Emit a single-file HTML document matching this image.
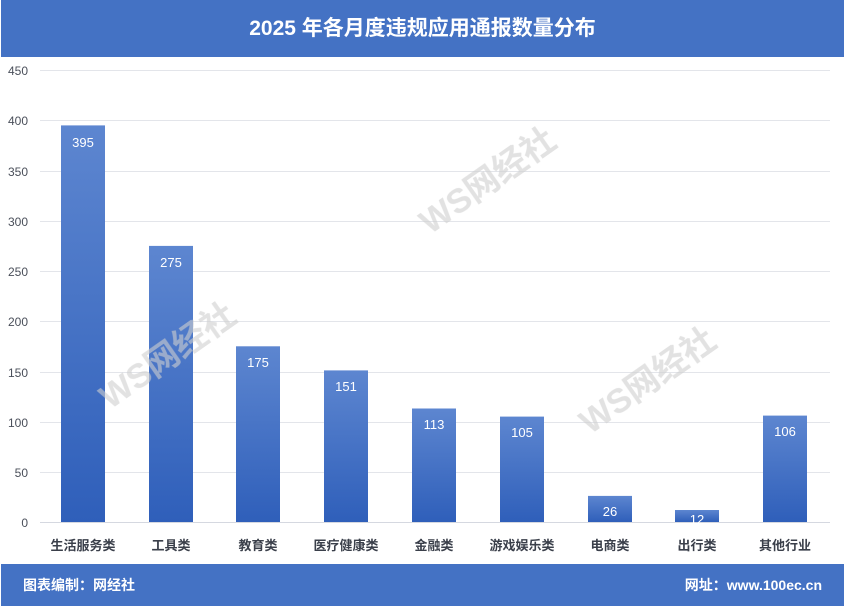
<!DOCTYPE html>
<html><head><meta charset="utf-8"><style>
body{margin:0;width:845px;height:606px;overflow:hidden;background:#fff;font-family:"Liberation Sans","Noto Sans CJK SC",sans-serif;}
.hdr{position:absolute;left:1px;top:0;width:843px;height:57px;background:#4472c4;color:#fff;font-weight:bold;font-size:21px;text-align:center;line-height:57px;}
.ftr{position:absolute;left:1px;top:564px;width:843px;height:42px;background:#4472c4;color:#fff;font-weight:bold;font-size:14px;line-height:42px;}
</style></head><body>
<div class="hdr">2025 年各月度违规应用通报数量分布</div>
<svg width="845" height="606" style="position:absolute;left:0;top:0">
<defs><linearGradient id="g" x1="0" y1="0" x2="0" y2="1"><stop offset="0" stop-color="#5d86d0"/><stop offset="1" stop-color="#2f5fba"/></linearGradient></defs>
<g stroke="#e3e5ea" stroke-width="1">
<line x1="40" x2="830" y1="70.5" y2="70.5"/><line x1="40" x2="830" y1="120.5" y2="120.5"/><line x1="40" x2="830" y1="171.5" y2="171.5"/><line x1="40" x2="830" y1="221.5" y2="221.5"/><line x1="40" x2="830" y1="271.5" y2="271.5"/><line x1="40" x2="830" y1="321.5" y2="321.5"/><line x1="40" x2="830" y1="372.5" y2="372.5"/><line x1="40" x2="830" y1="422.5" y2="422.5"/><line x1="40" x2="830" y1="472.5" y2="472.5"/>
</g>
<line x1="40" x2="830" y1="522.5" y2="522.5" stroke="#d5d8e0"/>
<g font-size="12" fill="#4a4f5a" text-anchor="end">
<text x="28" y="75">450</text><text x="28" y="125">400</text><text x="28" y="176">350</text><text x="28" y="226">300</text><text x="28" y="276">250</text><text x="28" y="326">200</text><text x="28" y="377">150</text><text x="28" y="427">100</text><text x="28" y="477">50</text><text x="28" y="527">0</text>
</g>
<g fill="url(#g)">
<rect x="61" y="125.4" width="44" height="396.6"/>
<rect x="149" y="245.9" width="44" height="276.1"/>
<rect x="236" y="346.3" width="44" height="175.7"/>
<rect x="324" y="370.4" width="44" height="151.6"/>
<rect x="412" y="408.5" width="44" height="113.5"/>
<rect x="500" y="416.6" width="44" height="105.4"/>
<rect x="588" y="495.9" width="44" height="26.1"/>
<rect x="675" y="510" width="44" height="12"/>
<rect x="763" y="415.6" width="44" height="106.4"/>
</g>
<g font-size="13" fill="#fff" text-anchor="middle">
<text x="83" y="147">395</text><text x="171" y="267">275</text><text x="258" y="367">175</text><text x="346" y="391">151</text><text x="434" y="429">113</text><text x="522" y="437">105</text><text x="610" y="516">26</text><text x="697" y="524">12</text><text x="785" y="436">106</text>
</g>
<g font-size="13" font-weight="bold" fill="#3a3f4a" text-anchor="middle">
<text x="83" y="550">生活服务类</text><text x="171" y="550">工具类</text><text x="258" y="550">教育类</text><text x="346" y="550">医疗健康类</text><text x="434" y="550">金融类</text><text x="522" y="550">游戏娱乐类</text><text x="610" y="550">电商类</text><text x="697" y="550">出行类</text><text x="785" y="550">其他行业</text>
</g>
<g fill="#cfcfcf" opacity="0.6" font-weight="bold">
<text x="430" y="235" font-size="34" transform="rotate(-35 430 235)">WS网经社</text>
<text x="110" y="410" font-size="34" transform="rotate(-35 110 410)">WS网经社</text>
<text x="590" y="435" font-size="34" transform="rotate(-35 590 435)">WS网经社</text>
</g>
</svg>
<div class="ftr"><span style="position:absolute;left:22px">图表编制：网经社</span><span style="position:absolute;right:22px">网址：www.100ec.cn</span></div>
</body></html>
